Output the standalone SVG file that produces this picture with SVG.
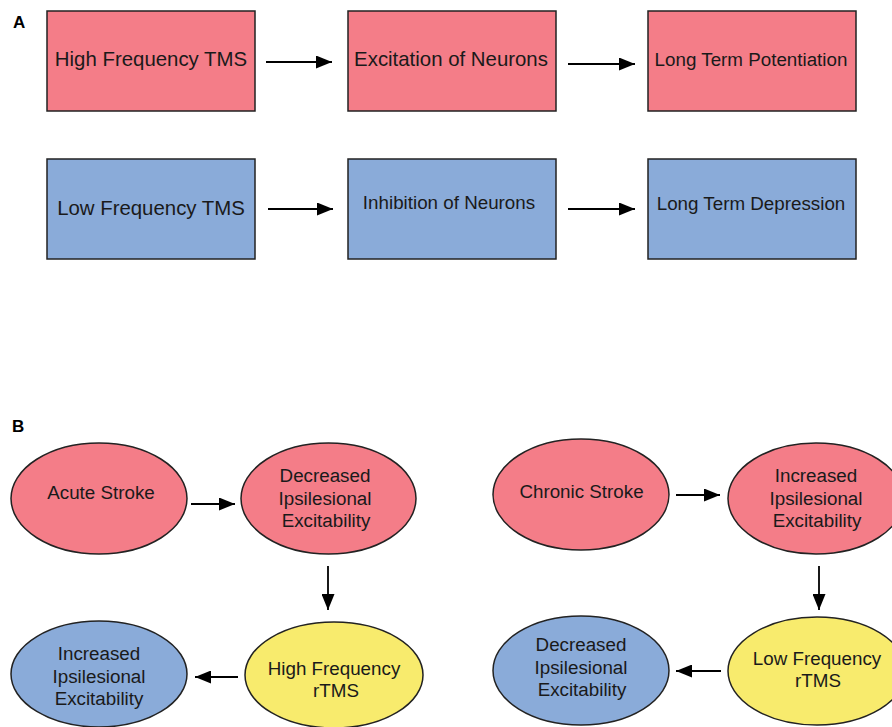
<svg xmlns="http://www.w3.org/2000/svg" width="892" height="727" viewBox="0 0 892 727">
<style>
.pink{fill:#F47D88;stroke:#222;stroke-width:1.5}
.blue{fill:#8AABD9;stroke:#222;stroke-width:1.5}
.yellow{fill:#F8EB6D;stroke:#222;stroke-width:1.5}
text{font-family:"Liberation Sans",Arial,sans-serif;fill:#1a1a1a;text-anchor:middle}
.t20{font-size:20.4px}
.t18{font-size:18.8px}
.e{font-size:18.8px}
.lbl{font-size:17px;font-weight:bold;text-anchor:start;fill:#000}
.conn line{stroke:#000;stroke-width:1.8}
</style>
<defs>
<marker id="ah" viewBox="0 0 16 13" refX="16" refY="6.5" markerWidth="16" markerHeight="13" markerUnits="userSpaceOnUse" orient="auto">
<path d="M0,0 L16,6.5 L0,13 Z" fill="#000"/>
</marker>
</defs>
<rect width="892" height="727" fill="#fff"/>
<text class="lbl" x="13" y="28">A</text>
<text class="lbl" x="12" y="432">B</text>

<g id="a-high"><rect class="pink" x="47" y="11" width="208" height="100"/><text class="t20" x="151" y="66">High Frequency TMS</text></g>
<g id="a-excit"><rect class="pink" x="348" y="11" width="208" height="100"/><text class="t20" x="451" y="66">Excitation of Neurons</text></g>
<g id="a-ltp"><rect class="pink" x="648" y="11" width="208" height="100"/><text class="t18" x="751" y="66">Long Term Potentiation</text></g>
<g id="a-low"><rect class="blue" x="47" y="159" width="208" height="100"/><text class="t20" x="151" y="215">Low Frequency TMS</text></g>
<g id="a-inhib"><rect class="blue" x="348" y="159" width="208" height="100"/><text class="t18" x="449" y="209">Inhibition of Neurons</text></g>
<g id="a-ltd"><rect class="blue" x="648" y="159" width="208" height="100"/><text class="t18" x="751" y="210">Long Term Depression</text></g>

<g id="b-acute"><ellipse class="pink" cx="99" cy="498.5" rx="88" ry="55.5"/><text class="e" x="101" y="499">Acute Stroke</text></g>
<g id="b-dec1"><ellipse class="pink" cx="328.5" cy="498.5" rx="87.5" ry="55.5"/><text class="e" x="325" y="482">Decreased</text><text class="e" x="325" y="505">Ipsilesional</text><text class="e" x="326" y="527">Excitability</text></g>
<g id="b-high"><ellipse class="yellow" cx="334" cy="675" rx="89" ry="53"/><text class="e" x="334" y="675">High Frequency</text><text class="e" x="336" y="697">rTMS</text></g>
<g id="b-inc1"><ellipse class="blue" cx="99" cy="674" rx="88" ry="53"/><text class="e" x="99" y="660">Increased</text><text class="e" x="99" y="683">Ipsilesional</text><text class="e" x="99" y="705">Excitability</text></g>

<g id="b-chronic"><ellipse class="pink" cx="581" cy="494.5" rx="88" ry="55.5"/><text class="e" x="581.5" y="498">Chronic Stroke</text></g>
<g id="b-inc2"><ellipse class="pink" cx="816" cy="498.5" rx="88" ry="55.5"/><text class="e" x="816" y="482">Increased</text><text class="e" x="816" y="505">Ipsilesional</text><text class="e" x="817" y="527">Excitability</text></g>
<g id="b-low"><ellipse class="yellow" cx="817" cy="671" rx="89" ry="54"/><text class="e" x="817" y="665">Low Frequency</text><text class="e" x="818" y="687">rTMS</text></g>
<g id="b-dec2"><ellipse class="blue" cx="581" cy="670.5" rx="88" ry="54.5"/><text class="e" x="581" y="651">Decreased</text><text class="e" x="581" y="674">Ipsilesional</text><text class="e" x="582" y="696">Excitability</text></g>

<g class="conn" id="connectors">
<line x1="266" y1="62" x2="332" y2="62" marker-end="url(#ah)"/>
<line x1="568" y1="64" x2="635" y2="64" marker-end="url(#ah)"/>
<line x1="268" y1="209" x2="333" y2="209" marker-end="url(#ah)"/>
<line x1="568" y1="209" x2="635" y2="209" marker-end="url(#ah)"/>
<line x1="191" y1="504" x2="235" y2="504" marker-end="url(#ah)"/>
<line x1="328" y1="566" x2="328" y2="610" marker-end="url(#ah)"/>
<line x1="238" y1="677" x2="195" y2="677" marker-end="url(#ah)"/>
<line x1="676" y1="495" x2="720" y2="495" marker-end="url(#ah)"/>
<line x1="819" y1="566" x2="819" y2="610" marker-end="url(#ah)"/>
<line x1="721" y1="671" x2="676" y2="671" marker-end="url(#ah)"/>
</g>
</svg>
